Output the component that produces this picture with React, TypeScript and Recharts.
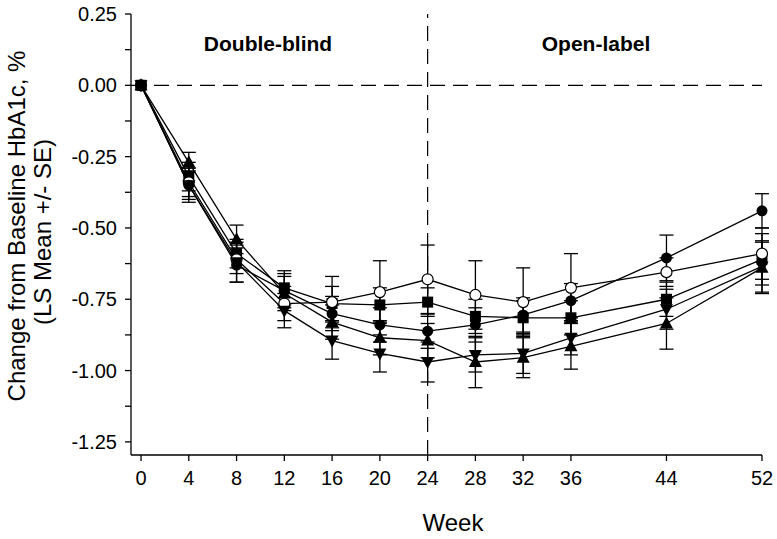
import { LineChart, Line, XAxis, YAxis, ErrorBar, ReferenceLine, Label } from "recharts";

const FONT = "'Liberation Sans', Arial, sans-serif";

const WEEKS = [0, 4, 8, 12, 16, 20, 24, 28, 32, 36, 44, 52];
const Y_TICKS = [0.25, 0.125, 0, -0.125, -0.25, -0.375, -0.5, -0.625, -0.75, -0.875, -1, -1.125, -1.25];
const Y_LABELED = [0.25, 0, -0.25, -0.5, -0.75, -1, -1.25];

// LS mean change (%) and SE per group
const filledCircle = [0, -0.35, -0.63, -0.72, -0.8, -0.84, -0.862, -0.84, -0.805, -0.755, -0.605, -0.44];
const filledCircleSE = [0, 0.05, 0.06, 0.06, 0.06, 0.06, 0.06, 0.06, 0.06, 0.06, 0.08, 0.06];
const openCircle = [0, -0.34, -0.61, -0.765, -0.76, -0.725, -0.68, -0.735, -0.76, -0.71, -0.655, -0.59];
const openCircleSE = [0, 0.05, 0.05, 0.06, 0.09, 0.11, 0.12, 0.12, 0.12, 0.12, 0.05, 0.09];
const square = [0, -0.32, -0.59, -0.71, -0.765, -0.77, -0.76, -0.81, -0.815, -0.815, -0.75, -0.61];
const squareSE = [0, 0.05, 0.05, 0.06, 0.06, 0.06, 0.05, 0.06, 0.06, 0.06, 0.06, 0.09];
const triUp = [0, -0.27, -0.54, -0.73, -0.83, -0.885, -0.895, -0.97, -0.955, -0.915, -0.835, -0.64];
const triUpSE = [0, 0.035, 0.05, 0.06, 0.06, 0.06, 0.06, 0.09, 0.07, 0.08, 0.09, 0.09];
const triDown = [0, -0.35, -0.62, -0.79, -0.895, -0.94, -0.97, -0.945, -0.94, -0.885, -0.785, -0.635];
const triDownSE = [0, 0.06, 0.07, 0.06, 0.065, 0.065, 0.07, 0.06, 0.07, 0.06, 0.07, 0.09];

const data = WEEKS.map((w, i) => ({
  week: w,
  fc: filledCircle[i], fcSE: filledCircleSE[i],
  oc: openCircle[i], ocSE: openCircleSE[i],
  sq: square[i], sqSE: squareSE[i],
  tu: triUp[i], tuSE: triUpSE[i],
  td: triDown[i], tdSE: triDownSE[i],
}));

const dotFilledCircle = (p: any) => <circle key={p.key} cx={p.cx} cy={p.cy} r={5.5} fill="#000" />;
const dotOpenCircle = (p: any) => <circle key={p.key} cx={p.cx} cy={p.cy} r={5.5} fill="#fff" stroke="#000" strokeWidth={1.2} />;
const dotSquare = (p: any) => <rect key={p.key} x={p.cx - 5.5} y={p.cy - 5.5} width={11} height={11} fill="#000" />;
const dotTriUp = (p: any) => (
  <polygon key={p.key} points={`${p.cx},${p.cy - 7} ${p.cx - 6.5},${p.cy + 5} ${p.cx + 6.5},${p.cy + 5}`} fill="#000" />
);
const dotTriDown = (p: any) => (
  <polygon key={p.key} points={`${p.cx},${p.cy + 7} ${p.cx - 6.5},${p.cy - 5} ${p.cx + 6.5},${p.cy - 5}`} fill="#000" />
);

const SERIES = [
  { key: "sq", dot: dotSquare },
  { key: "oc", dot: dotOpenCircle },
  { key: "fc", dot: dotFilledCircle },
  { key: "tu", dot: dotTriUp },
  { key: "td", dot: dotTriDown },
];

const YTitle = () => (
  <g fontFamily={FONT} fontSize={24} fill="#000">
    <text transform="translate(25,226) rotate(-90)" textAnchor="middle">Change from Baseline HbA1c, %</text>
    <text transform="translate(51,232) rotate(-90)" textAnchor="middle">(LS Mean +/- SE)</text>
  </g>
);

const XTitle = () => (
  <text x={453} y={531} textAnchor="middle" fontFamily={FONT} fontSize={24} fill="#000">Week</text>
);

export default function App() {
  return (
    <div style={{ position: "absolute", left: 0, top: 0, width: 777, height: 539, background: "#fff" }}>
      <LineChart width={777} height={539} data={data} margin={{ top: 14, right: 15, left: 0, bottom: 0 }}>
        <XAxis
          dataKey="week"
          type="number"
          domain={[-0.84, 52]}
          ticks={WEEKS}
          interval={0}
          height={84}
          tickSize={6}
          tick={{ fill: "#000", fontSize: 20, fontFamily: FONT, dy: 8 }}
          axisLine={{ stroke: "#000", strokeWidth: 1.3 }}
          tickLine={{ stroke: "#000", strokeWidth: 1.3 }}
        >
          <Label content={<XTitle />} />
        </XAxis>
        <YAxis
          type="number"
          domain={[-1.296, 0.25]}
          allowDataOverflow
          ticks={Y_TICKS}
          interval={0}
          width={131}
          tickSize={6}
          tickFormatter={(v: number) => (Y_LABELED.includes(v) ? v.toFixed(2) : "")}
          tick={{ fill: "#000", fontSize: 20, fontFamily: FONT, dx: -6 }}
          axisLine={{ stroke: "#000", strokeWidth: 1.3 }}
          tickLine={{ stroke: "#000", strokeWidth: 1.3 }}
        >
          <Label content={<YTitle />} />
        </YAxis>
        <ReferenceLine y={0} stroke="#000" strokeWidth={1.2} strokeDasharray="15 8" />
        <ReferenceLine x={24} stroke="#000" strokeWidth={1.2} strokeDasharray="15 8" />
        {SERIES.map((s) => (
          <Line
            key={s.key}
            dataKey={s.key}
            stroke="#000"
            strokeWidth={1.3}
            dot={s.dot}
            activeDot={false}
            isAnimationActive={false}
          >
            <ErrorBar dataKey={`${s.key}SE`} width={7} stroke="#000" strokeWidth={1.3} direction="y" />
          </Line>
        ))}
      </LineChart>
      <div style={{ position: "absolute", left: 268, top: 44, transform: "translate(-50%,-50%)", fontFamily: FONT, fontWeight: "bold", fontSize: 21, whiteSpace: "nowrap" }}>
        Double-blind
      </div>
      <div style={{ position: "absolute", left: 596, top: 44, transform: "translate(-50%,-50%)", fontFamily: FONT, fontWeight: "bold", fontSize: 21, whiteSpace: "nowrap" }}>
        Open-label
      </div>
    </div>
  );
}
